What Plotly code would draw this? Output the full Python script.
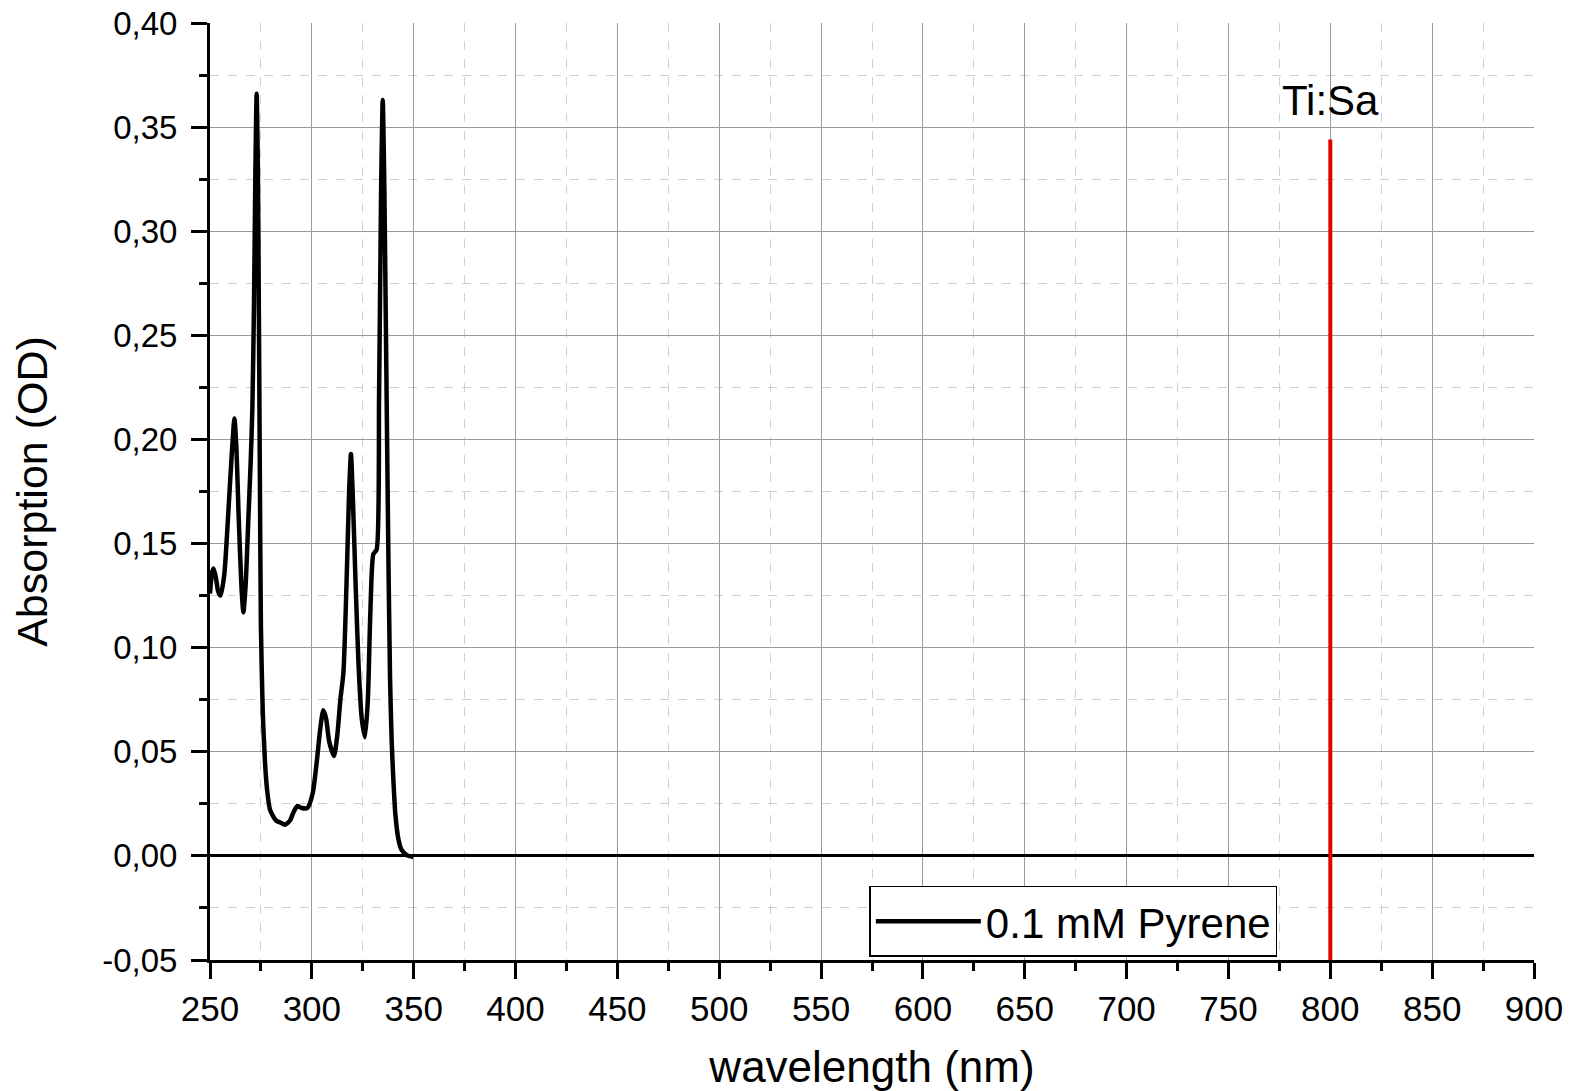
import plotly.graph_objects as go

# ---- data ----
wavelength_nm = [250, 251, 251.8, 253, 254, 255.2, 257, 259, 260.5, 262, 263, 264, 265.5, 266.4,
                 267.5, 268.8, 270, 270.8, 271.6, 272.3, 272.9, 273.5, 274.0, 274.5, 275.0, 275.9,
                 277.0, 278.0, 279.5, 282.4, 284.5, 286.8, 289.3, 291.0, 292.9, 295.0, 297.8,
                 300.4, 302.4, 304.0, 305.6, 307.0, 308.5, 310.9, 312.5, 314.0, 315.5, 317.0,
                 318.3, 319.2, 320.2, 321.5, 323.0, 324.5, 326.1, 327.5, 328.5, 329.5, 330.2,
                 331.8, 333.0, 334.0, 334.8, 335.6, 336.5, 337.5, 338.4, 339.2, 340.0, 341.0,
                 342.5, 344.0, 346.6, 349.8]
absorbance_od = [0.126, 0.136, 0.138, 0.133, 0.127, 0.125, 0.135, 0.165, 0.190, 0.210, 0.195, 0.165,
                 0.128, 0.117, 0.130, 0.161, 0.190, 0.215, 0.265, 0.330, 0.366, 0.330, 0.260,
                 0.180, 0.110, 0.069, 0.045, 0.032, 0.022, 0.017, 0.016, 0.015, 0.017, 0.021,
                 0.024, 0.023, 0.023, 0.030, 0.045, 0.060, 0.070, 0.066, 0.055, 0.048, 0.058,
                 0.075, 0.088, 0.130, 0.175, 0.193, 0.170, 0.130, 0.090, 0.066, 0.057, 0.075,
                 0.110, 0.138, 0.145, 0.147, 0.220, 0.320, 0.363, 0.320, 0.240, 0.150, 0.085,
                 0.055, 0.037, 0.020, 0.008, 0.003, 0.0004, -0.0005]
series_name = "0.1 mM Pyrene"

laser_name = "Ti:Sa"
laser_x = [800, 800]
laser_y = [-0.05, 0.344]
laser_label_y = 0.363

x_tick_vals = [250, 300, 350, 400, 450, 500, 550, 600, 650, 700, 750, 800, 850, 900]
x_tick_labels = [str(v) for v in x_tick_vals]
y_tick_vals = [-0.05, 0.0, 0.05, 0.10, 0.15, 0.20, 0.25, 0.30, 0.35, 0.40]
y_tick_labels = ["-0,05", "0,00", "0,05", "0,10", "0,15", "0,20", "0,25", "0,30", "0,35", "0,40"]

FONT = "Liberation Sans, Arial, sans-serif"

fig = go.Figure()
fig.add_trace(go.Scatter(x=wavelength_nm, y=absorbance_od, mode="lines", name=series_name,
                         line=dict(color="black", width=4.5, shape="spline", smoothing=0.6)))
fig.add_trace(go.Scatter(x=laser_x, y=laser_y, mode="lines", name=laser_name, showlegend=False,
                         line=dict(color="#e60000", width=4)))

fig.add_annotation(x=laser_x[0], y=laser_label_y, text=laser_name, showarrow=False,
                   xanchor="center", yanchor="middle",
                   font=dict(family=FONT, size=42, color="black"))

fig.update_xaxes(range=[250, 900], tickvals=x_tick_vals, ticktext=x_tick_labels,
                 automargin=False,
                 showline=True, linecolor="black", linewidth=3, mirror=False,
                 ticks="outside", ticklen=16, tickwidth=3, tickcolor="black",
                 showgrid=True, gridcolor="#9a9a9a", gridwidth=1, zeroline=False,
                 minor=dict(dtick=25, ticks="outside", ticklen=8, tickwidth=3, tickcolor="black",
                            showgrid=True, gridcolor="#d0d0d0", griddash="dash", gridwidth=1),
                 tickfont=dict(family=FONT, size=35, color="black"),
                 title=dict(text="wavelength (nm)", font=dict(family=FONT, size=44, color="black"),
                            standoff=26))
fig.update_yaxes(range=[-0.05, 0.40], tickvals=y_tick_vals, ticktext=y_tick_labels,
                 automargin=False, ticklabelstandoff=7,
                 showline=True, linecolor="black", linewidth=3, mirror=False,
                 ticks="outside", ticklen=16, tickwidth=3, tickcolor="black",
                 showgrid=True, gridcolor="#9a9a9a", gridwidth=1,
                 zeroline=True, zerolinecolor="black", zerolinewidth=3,
                 minor=dict(dtick=0.025, tick0=0, ticks="outside", ticklen=8, tickwidth=3,
                            tickcolor="black", showgrid=True, gridcolor="#d0d0d0",
                            griddash="dash", gridwidth=1),
                 tickfont=dict(family=FONT, size=33, color="black"),
                 title=dict(text="Absorption (OD)", font=dict(family=FONT, size=43, color="black"),
                            standoff=42))

fig.update_layout(width=1579, height=1091, plot_bgcolor="white", paper_bgcolor="white",
                  margin=dict(l=210, r=45, t=23, b=131),
                  showlegend=True,
                  legend=dict(x=0.498, y=0.079, xanchor="left", yanchor="top",
                              bgcolor="white", bordercolor="black", borderwidth=1.5,
                              itemwidth=105, font=dict(family=FONT, size=42, color="black")))

fig.write_html("out.html")
